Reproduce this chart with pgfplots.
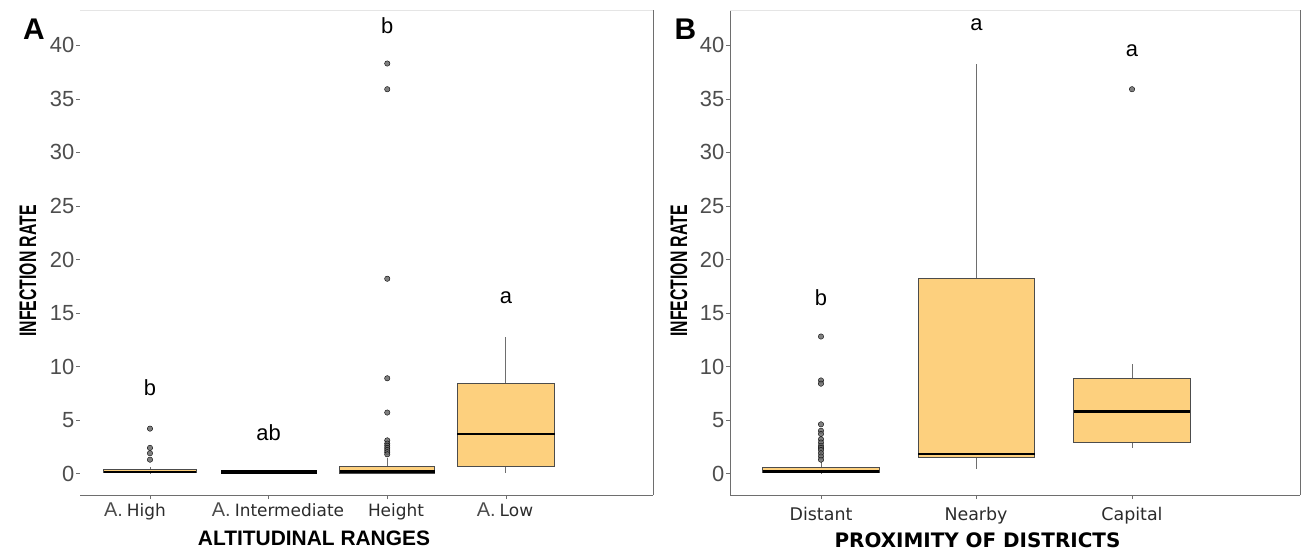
\documentclass[border=0pt]{standalone}
\usepackage{pgfplots}
\pgfplotsset{compat=1.18}
\usepgfplotslibrary{statistics}
\usepackage{fontspec}
\setmainfont{Liberation Sans}
\newfontfamily\dejavu{DejaVu Sans}
\definecolor{boxfill}{HTML}{FDD07E}
\definecolor{tickgray}{HTML}{4D4D4D}
\definecolor{linegray}{HTML}{6E6E6E}
\definecolor{ptgray}{HTML}{6A6A6A}
\definecolor{labgray}{HTML}{2B2B2B}
\pgfplotsset{
  panel/.style={
    scale only axis, height=485bp,
    ymin=-2.0, ymax=43.3,
    ytick={0,5,...,40},
    xtick={1,2,3,4}, xticklabels={,,,},
    tick align=outside, major tick length=4bp,
    tick style={linegray, line width=0.6bp},
    yticklabel style={font=\fontsize{22}{22}\selectfont, text=tickgray, inner sep=1.5bp},
    /pgf/number format/assume math mode=true,
    separate axis lines, axis x line*=bottom, axis y line*=left,
    x axis line style={linegray, line width=0.9bp},
    y axis line style={linegray, line width=0.9bp},
    clip=false,
    boxplot/draw direction=y,
    boxplot/whisker extend=0,
    boxplot/every box/.style={draw=black!70, fill=boxfill, line width=0.7bp},
    boxplot/every whisker/.style={draw=linegray, line width=0.8bp},
    boxplot/every median/.style={draw=black, line width=2.5bp},
  },
  bx/.style={mark=*, mark size=2.7bp, mark options={fill=ptgray, draw=none, fill opacity=0.85}},
}
\begin{document}
\begin{tikzpicture}
\useasboundingbox (0bp,0bp) rectangle (1303bp,550bp);
% ---------------- Panel A ----------------
\begin{axis}[panel, at={(80bp,55bp)}, anchor=south west, width=573bp,
  xmin=0.41, xmax=5.24, y axis line style={draw=none}]
\addplot[bx, boxplot prepared={lower whisker=0, lower quartile=0.08, median=0.15, upper quartile=0.4, upper whisker=0.6, draw position=1, box extend=0.78}]
  coordinates {(0,4.2) (0,2.4) (0,1.9) (0,1.3)};
\addplot[bx, boxplot prepared={lower whisker=0.05, lower quartile=0.05, median=0.15, upper quartile=0.28, upper whisker=0.28, draw position=2, box extend=0.8},
  boxplot/every box/.style={draw=black, fill=black, line width=0.7bp}]
  coordinates {};
\addplot[bx, boxplot prepared={lower whisker=0, lower quartile=0.05, median=0.2, upper quartile=0.7, upper whisker=1.5, draw position=3, box extend=0.8}]
  coordinates {(0,38.3) (0,35.9) (0,18.2) (0,8.9) (0,5.7) (0,3.1) (0,2.8) (0,2.6) (0,2.4) (0,2.2) (0,2.0) (0,1.8)};
\addplot[bx, boxplot prepared={lower whisker=0.1, lower quartile=0.7, median=3.7, upper quartile=8.4, upper whisker=12.8, draw position=4, box extend=0.82}]
  coordinates {};
\draw[linegray, line width=0.9bp] (rel axis cs:1,0) -- (rel axis cs:1,1);
\draw[black!10, line width=0.8bp] (rel axis cs:0,1) -- (rel axis cs:1,1);
\node[font=\fontsize{22}{22}\selectfont] at (axis cs:1,8.0) {b};
\node[font=\fontsize{22}{22}\selectfont] at (axis cs:2,3.8) {ab};
\node[font=\fontsize{22}{22}\selectfont] at (axis cs:3,41.8) {b};
\node[font=\fontsize{22}{22}\selectfont] at (axis cs:4,16.4) {a};
\end{axis}
% ---------------- Panel B ----------------
\begin{axis}[panel, at={(730bp,55bp)}, anchor=south west, width=570bp,
  xmin=0.415, xmax=4.08, xtick={1,2,3}, xticklabels={,,}]
\addplot[bx, boxplot prepared={lower whisker=0, lower quartile=0.1, median=0.2, upper quartile=0.6, upper whisker=1.1, draw position=1, box extend=0.75}]
  coordinates {(0,12.8) (0,8.7) (0,8.4) (0,4.6) (0,4.0) (0,3.7) (0,3.2) (0,2.9) (0,2.6) (0,2.4) (0,2.2) (0,1.9) (0,1.6) (0,1.3)};
\addplot[bx, boxplot prepared={lower whisker=0.4, lower quartile=1.5, median=1.85, upper quartile=18.2, upper whisker=38.3, draw position=2, box extend=0.75}]
  coordinates {};
\addplot[bx, boxplot prepared={lower whisker=2.4, lower quartile=2.9, median=5.8, upper quartile=8.9, upper whisker=10.2, draw position=3, box extend=0.75}]
  coordinates {(0,35.9)};
\draw[linegray, line width=0.9bp] (rel axis cs:1,0) -- (rel axis cs:1,1);
\draw[black!10, line width=0.8bp] (rel axis cs:0,1) -- (rel axis cs:1,1);
\node[font=\fontsize{22}{22}\selectfont] at (axis cs:1,16.4) {b};
\node[font=\fontsize{22}{22}\selectfont] at (axis cs:2,41.9) {a};
\node[font=\fontsize{22}{22}\selectfont] at (axis cs:3,39.5) {a};
\end{axis}
% ---------------- Text ----------------
\node[font=\bfseries\fontsize{30}{30}\selectfont] at (34bp,521bp) {A};
\node[font=\bfseries\fontsize{30}{30}\selectfont] at (685.5bp,521bp) {B};
% x category labels A
\node[anchor=base, inner sep=0] at (135bp,34bp) {\textcolor{tickgray}{\fontsize{20}{20}\selectfont A.}\hspace{4bp}\textcolor{labgray}{\dejavu\fontsize{17}{17}\selectfont High}};
\node[anchor=base, inner sep=0] at (278bp,34bp) {\textcolor{tickgray}{\fontsize{20}{20}\selectfont A.}\hspace{4bp}\textcolor{labgray}{\dejavu\fontsize{17}{17}\selectfont Intermediate}};
\node[anchor=base, inner sep=0] at (396bp,34bp) {\textcolor{labgray}{\dejavu\fontsize{17}{17}\selectfont Height}};
\node[anchor=base, inner sep=0] at (505bp,34bp) {\textcolor{tickgray}{\fontsize{20}{20}\selectfont A.}\hspace{4bp}\textcolor{labgray}{\dejavu\fontsize{17}{17}\selectfont Low}};
% x category labels B
\node[anchor=base, inner sep=0, text=labgray, font=\dejavu\fontsize{17.5}{17.5}\selectfont] at (821bp,30bp) {Distant};
\node[anchor=base, inner sep=0, text=labgray, font=\dejavu\fontsize{17.5}{17.5}\selectfont] at (976bp,30bp) {Nearby};
\node[anchor=base, inner sep=0, text=labgray, font=\dejavu\fontsize{17.5}{17.5}\selectfont] at (1132bp,30bp) {Capital};
% axis titles
\node[anchor=base, inner sep=0, font=\bfseries\fontsize{21}{21}\selectfont] at (314bp,5bp) {ALTITUDINAL RANGES};
\node[anchor=base, inner sep=0, font=\dejavu\bfseries\fontsize{20}{20}\selectfont] at (977.5bp,3bp) {PROXIMITY OF DISTRICTS};
\node[rotate=90, inner sep=0, font=\bfseries\fontsize{24}{24}\selectfont] at (28bp,279bp) {\scalebox{0.66}[1]{INFECTION RATE}};
\node[rotate=90, inner sep=0, font=\bfseries\fontsize{24}{24}\selectfont] at (679bp,279bp) {\scalebox{0.66}[1]{INFECTION RATE}};
\end{tikzpicture}
\end{document}
